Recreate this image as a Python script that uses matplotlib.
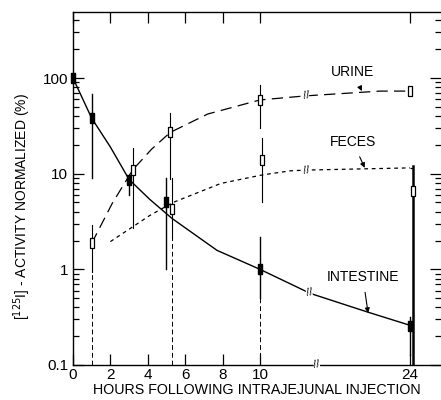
"""Clearance of [125I] after intrajejunal injection: intestine, urine, feces (log scale, broken time axis)."""
import numpy as np
import matplotlib
matplotlib.use("Agg")
import matplotlib.pyplot as plt
from matplotlib.ticker import FixedLocator, NullFormatter, LogLocator

plt.rcParams["font.family"] = ["Liberation Sans", "DejaVu Sans"]

# --- data (hours, % activity) ---
int_t = [0, 1, 3, 5, 10, 24]
int_v = [100, 38, 8.5, 5.0, 1.0, 0.255]
int_lo = [None, 9.1, 6.0, 1.0, 0.1, 0.1]
int_hi = [None, 68, 9.5, 9.0, 2.2, 0.32]

uri_t = [1, 3.2, 5.2, 10, 24]
uri_v = [1.87, 11, 27, 59, 73]
uri_lo = [0.1, 2.7, 8.8, 30, None]
uri_hi = [2.9, 18.6, 43, 85, None]

fec_t = [5.3, 10.2, 24.3]
fec_v = [4.3, 14, 6.6]
fec_lo = [0.1, 5.0, 0.1]
fec_hi = [9.0, 23.7, 12]

# fitted curves
int_curve_t = [0, 1, 2, 3, 4.1, 5.3, 7.7, 10, 14.7, 20.1, 24]
int_curve_v = [100, 38, 19, 8.7, 5.4, 3.4, 1.58, 1.0, 0.56, 0.356, 0.26]
uri_curve_t = [1, 2.1, 3.2, 4.2, 5.2, 7.2, 10, 14.2, 21.2, 24]
uri_curve_v = [1.87, 4.9, 11, 18, 27, 42, 59, 65, 73, 73]
fec_curve_t = [2.0, 4.1, 5.35, 7.9, 10.2, 12.8, 14.2, 24]
fec_curve_v = [1.95, 3.65, 5.0, 7.9, 9.7, 10.7, 10.9, 11.5]

xticks = [0, 2, 4, 6, 8, 10, 24]


def tx(h):
    """broken time axis: linear to 10 h, compressed after"""
    h = np.asarray(h, dtype=float)
    return np.where(h <= 10, h, 10 + (h - 10) * 0.573)


fig = plt.figure(figsize=(4.41, 4.0), dpi=100)
ax = fig.add_axes([0.1655, 0.0875, 0.8345, 0.8825])
ax.set_yscale("log")
ax.set_xlim(0, 19.68)
ax.set_ylim(0.1, 490)

k = "black"
ax.plot(tx(int_curve_t), int_curve_v, color=k, lw=1.0, zorder=3)
ax.plot(tx(uri_curve_t), uri_curve_v, color=k, lw=0.9, dashes=(9, 5), zorder=3)
ax.plot(tx(fec_curve_t), fec_curve_v, color=k, lw=0.9, dashes=(3, 3), zorder=3)
# feces curve drops onto its 24 h bar
ax.plot(tx([24, 24.3]), [11.5, 11.5], color=k, lw=0.9, dashes=(3, 3))


def bars(ts, vals, lo, hi, solid_lw=1.0):
    for t, v, l, h in zip(ts, vals, lo, hi):
        if h is None:
            continue
        if l <= 0.1:
            ax.plot(tx([t, t]), [min(v, h) * 0.5, h], color=k, lw=solid_lw)
            ax.plot(tx([t, t]), [0.1, min(v, h) * 0.5], color=k, lw=0.7, dashes=(5, 3))
        else:
            ax.plot(tx([t, t]), [l, h], color=k, lw=solid_lw)


bars(int_t, int_v, int_lo, int_hi)
bars(uri_t, uri_v, uri_lo, uri_hi, solid_lw=0.8)
bars(fec_t[:2], fec_v[:2], fec_lo[:2], fec_hi[:2], solid_lw=0.8)
ax.plot(tx([fec_t[2]] * 2), [fec_lo[2], fec_hi[2]], color=k, lw=1.8)

rect = [(-0.5, -1), (0.5, -1), (0.5, 1), (-0.5, 1), (-0.5, -1)]
ax.plot(tx(int_t), int_v, ls="none", marker=rect, ms=7, mfc=k, mec=k, zorder=5, clip_on=False)
ax.plot(tx(uri_t), uri_v, ls="none", marker=rect, ms=7, mfc="white", mec=k, mew=0.9, zorder=5)
ax.plot(tx(fec_t), fec_v, ls="none", marker=rect, ms=7, mfc="white", mec=k, mew=0.9, zorder=5)

# curve labels with arrows (positions in axis units of the broken scale)
lab = dict(fontsize=10, ha="center", va="center")
arr = dict(arrowstyle="-|>", color=k, lw=0.8, mutation_scale=7, shrinkA=4, shrinkB=0)
ax.annotate("URINE", xy=(15.45, 73), xytext=(14.97, 115), arrowprops=arr, **lab)
ax.annotate("FECES", xy=(15.6, 11.5), xytext=(14.97, 21.5), arrowprops=arr, **lab)
ax.annotate("INTESTINE", xy=(15.78, 0.35), xytext=(15.5, 0.83), arrowprops=arr, **lab)

# axis break marks
for xb, yb in [(tx(14.3), 65), (tx(14.3), 10.9), (tx(14.6), 0.57), (tx(15.3), 0.1)]:
    ax.text(xb, yb, "//", fontsize=8, ha="center", va="center", rotation=10,
            zorder=6, bbox=dict(boxstyle="square,pad=0.0", fc="white", ec="none"))

ax.set_xticks(tx(xticks))
ax.set_xticklabels([str(x) for x in xticks])
ax.yaxis.set_major_locator(FixedLocator([0.1, 1, 10, 100]))
ax.set_yticklabels(["0.1", "1", "10", "100"])
ax.yaxis.set_minor_locator(LogLocator(base=10, subs=np.arange(2, 10)))
ax.yaxis.set_minor_formatter(NullFormatter())
ax.tick_params(which="both", direction="in", top=True, right=True, labelsize=11, width=0.9)
ax.tick_params(axis="x", pad=2)
ax.tick_params(which="major", length=8)
ax.tick_params(which="minor", length=4)
ax.spines["right"].set_visible(False)
for s in ["left", "bottom", "top"]:
    ax.spines[s].set_linewidth(1.0)

ax.set_xlabel("HOURS FOLLOWING INTRAJEJUNAL INJECTION", fontsize=10.3, labelpad=1)
ax.set_ylabel("[$^{125}$I] - ACTIVITY NORMALIZED (%)", fontsize=10)
ax.yaxis.set_label_coords(-0.11, 0.45)

fig.savefig("out.png", dpi=100)
